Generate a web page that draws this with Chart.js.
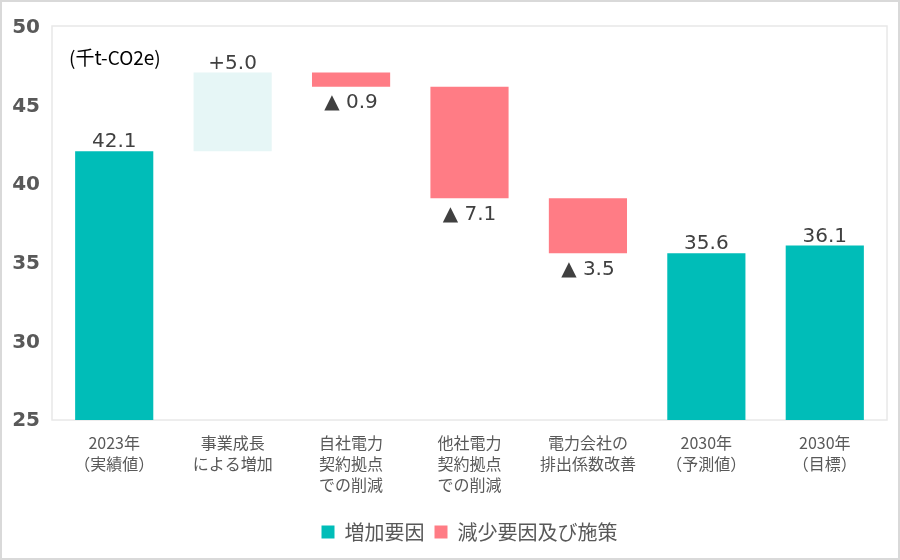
<!DOCTYPE html>
<html>
<head>
<meta charset="utf-8">
<script src="https://cdn.jsdelivr.net/npm/chart.js@4/dist/chart.umd.min.js"></script>
<style>
html,body{margin:0;padding:0;background:#fff;}
#wrap{width:900px;height:560px;position:relative;}
</style>
</head>
<body>
<div id="wrap"><canvas id="c" width="900" height="560"></canvas></div>
<script>
// ---- data ----
const categories = [
  ["2023年", "（実績値）"],
  ["事業成長", "による増加"],
  ["自社電力", "契約拠点", "での削減"],
  ["他社電力", "契約拠点", "での削減"],
  ["電力会社の", "排出係数改善"],
  ["2030年", "（予測値）"],
  ["2030年", "（目標）"]
];
const actual2023 = 42.1;
const growth = 5.0;
const reductions = [0.9, 7.1, 3.5];
const forecast2030 = 35.6;
const target2030 = 36.1;
const yTicks = [25, 30, 35, 40, 45, 50];
const legendNames = ["増加要因", "減少要因及び施策"];
const unitLabel = "(千t-CO2e)";

const axisMin = 25, axisMax = 50;
const TEAL = "#00BDB8", PINK = "#FF7C85", PALE = "#E6F6F6";

// build floating ranges from the values
const ranges = [];
const labels = [];
const colors = [];
const above = [];
ranges.push([axisMin, actual2023]); labels.push(actual2023.toFixed(1)); colors.push(TEAL); above.push(true);
let level = actual2023;
ranges.push([level, level + growth]); labels.push("+" + growth.toFixed(1)); colors.push(PALE); above.push(true);
level += growth;
reductions.forEach(r => {
  ranges.push([level, level - r]); labels.push("▲ " + r.toFixed(1)); colors.push(PINK); above.push(false);
  level -= r;
});
ranges.push([axisMin, forecast2030]); labels.push(forecast2030.toFixed(1)); colors.push(TEAL); above.push(true);
ranges.push([axisMin, target2030]); labels.push(target2030.toFixed(1)); colors.push(TEAL); above.push(true);

const decorPlugin = {
  id: 'decor',
  beforeDraw(chart) {
    const ctx = chart.ctx, a = chart.chartArea;
    ctx.save();
    ctx.fillStyle = '#fff';
    ctx.fillRect(0, 0, chart.width, chart.height);
    ctx.strokeStyle = '#e8e8e8';
    ctx.lineWidth = 1.5;
    ctx.strokeRect(a.left - 3, a.top - 1, a.right - a.left + 6, a.bottom - a.top + 1);
    ctx.strokeStyle = '#d9d9d9';
    ctx.lineWidth = 2;
    ctx.strokeRect(1, 1, chart.width - 2, chart.height - 2);
    ctx.restore();
  },
  afterDatasetsDraw(chart) {
    const ctx = chart.ctx, a = chart.chartArea;
    const ys = chart.scales.y;
    const meta = chart.getDatasetMeta(0);
    ctx.save();
    ctx.font = '20px "DejaVu Sans"';
    ctx.fillStyle = '#404040';
    ctx.textAlign = 'center';
    meta.data.forEach((el, i) => {
      const r = ranges[i];
      const top = ys.getPixelForValue(Math.max(r[0], r[1]));
      const bot = ys.getPixelForValue(Math.min(r[0], r[1]));
      if (above[i]) {
        ctx.textBaseline = 'alphabetic';
        ctx.fillText(labels[i], el.x, top - 4);
      } else {
        ctx.textBaseline = 'top';
        ctx.fillText(labels[i], el.x, bot + 6);
      }
    });
    ctx.font = '19px "Noto Sans CJK JP"';
    ctx.fillStyle = '#000';
    ctx.textAlign = 'left';
    ctx.textBaseline = 'middle';
    ctx.fillText(unitLabel, 69, 58);
    ctx.restore();
  }
};

new Chart(document.getElementById('c'), {
  type: 'bar',
  data: {
    labels: categories,
    datasets: [{
      data: ranges,
      backgroundColor: colors,
      borderColor: colors,
      borderWidth: 0,
      borderSkipped: false,
      categoryPercentage: 1,
      barPercentage: 0.66
    }]
  },
  options: {
    responsive: false,
    animation: false,
    devicePixelRatio: 1,
    layout: { padding: { top: 24, right: 16, left: 0, bottom: 8 } },
    scales: {
      x: {
        grid: { display: false, drawTicks: false },
        border: { display: false },
        ticks: {
          color: '#595959',
          font: { family: '"Noto Sans CJK JP"', size: 16, lineHeight: 1.32 },
          padding: 12,
          maxRotation: 0,
          autoSkip: false
        },
        afterFit(s) { s.height = 92; }
      },
      y: {
        min: axisMin, max: axisMax,
        grid: { display: false, drawTicks: false },
        border: { display: false },
        afterBuildTicks(s) { s.ticks = yTicks.map(v => ({ value: v })); },
        ticks: {
          color: '#595959',
          font: { family: '"DejaVu Sans"', size: 20, weight: 'bold' },
          padding: 15,
          labelOffset: 1
        },
        afterFit(s) { s.width = 55; }
      }
    },
    plugins: {
      tooltip: { enabled: false },
      legend: {
        position: 'bottom',
        fullSize: false,
        labels: {
          color: '#595959',
          font: { family: '"Noto Sans CJK JP"', size: 20 },
          boxWidth: 13,
          boxHeight: 13,
          padding: 10,
          generateLabels() {
            return [
              { text: legendNames[0], fillStyle: TEAL, strokeStyle: TEAL, lineWidth: 0, fontColor: '#595959' },
              { text: legendNames[1], fillStyle: PINK, strokeStyle: PINK, lineWidth: 0, fontColor: '#595959' }
            ];
          }
        }
      }
    }
  },
  plugins: [decorPlugin]
});
</script>
</body>
</html>
